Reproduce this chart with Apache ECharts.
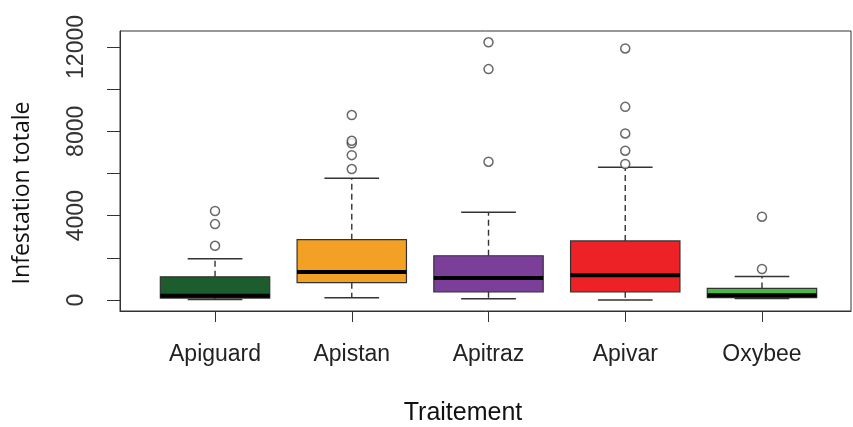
<!DOCTYPE html>
<html><head><meta charset="utf-8">
<script src="https://cdn.jsdelivr.net/npm/echarts@6/dist/echarts.min.js"></script>
<style>html,body{margin:0;padding:0;background:#fff}#c{width:853px;height:427px}</style>
</head><body><div id="c"></div>
<script>
const categories = ['Apiguard', 'Apistan', 'Apitraz', 'Apivar', 'Oxybee'];
const boxColors = ['#1c5d2e', '#f3a125', '#7b3f99', '#ec2227', '#4cb848'];
const lowerWhisker = [20, 110, 60, 0, 70];
const q1 = [90, 820, 390, 390, 110];
const median = [200, 1330, 1040, 1170, 220];
const q3 = [1100, 2860, 2100, 2800, 550];
const upperWhisker = [1960, 5770, 4160, 6300, 1110];
const outliersApiguard = [2570, 3600, 4220];
const outliersApistan = [6210, 6870, 7430, 7550, 8770];
const outliersApitraz = [6560, 10950, 12220];
const outliersApivar = [6450, 7080, 7900, 9160, 11930];
const outliersOxybee = [1470, 3950];
const yTicks = [0, 2000, 4000, 6000, 8000, 10000, 12000];
const yLabels = [0, 4000, 8000, 12000];
const xPositions = [1, 2, 3, 4, 5];

const outlierGroups = [outliersApiguard, outliersApistan, outliersApitraz, outliersApivar, outliersOxybee];
const boxData = categories.map((c, i) => [xPositions[i], lowerWhisker[i], q1[i], median[i], q3[i], upperWhisker[i]]);
const outlierData = [];
outlierGroups.forEach((g, i) => g.forEach(v => outlierData.push([xPositions[i], v])));

const chart = echarts.init(document.getElementById('c'), null, {renderer: 'canvas'});
chart.setOption({
  backgroundColor: '#fff',
  animation: false,
  grid: {left: 120, right: 2, top: 31, bottom: 116, show: true, borderColor: '#333', borderWidth: 1, outerBoundsMode: 'none'},
  xAxis: {
    type: 'value', min: 0.305, max: 5.651,
    splitLine: {show: false},
    axisLine: {show: true, onZero: false, lineStyle: {color: '#333', width: 1}},
    axisTick: {show: true, length: 11, customValues: xPositions, lineStyle: {color: '#333'}},
    axisLabel: {customValues: xPositions, margin: 32, color: '#222', fontFamily: 'Liberation Sans', fontSize: 23,
      formatter: v => categories[Math.round(v) - 1]}
  },
  yAxis: {
    type: 'value', min: -521, max: 12757,
    splitLine: {show: false},
    axisLine: {show: true, onZero: false, lineStyle: {color: '#333', width: 1}},
    axisTick: {show: true, length: 13, customValues: yTicks, lineStyle: {color: '#333'}},
    axisLabel: {customValues: yLabels, rotate: 90, margin: 32, color: '#333', fontFamily: 'Liberation Sans', fontSize: 23,
      formatter: v => String(v)}
  },
  graphic: [
    {type: 'text', x: 22, y: 193, rotation: Math.PI / 2,
      style: {text: 'Infestation totale', font: '23px "Open Sans"', fill: '#111', align: 'center', verticalAlign: 'middle'}},
    {type: 'text', x: 463, y: 413,
      style: {text: 'Traitement', font: '25px "Liberation Sans"', fill: '#111', align: 'center', verticalAlign: 'middle'}}
  ],
  series: [
    {
      type: 'custom',
      data: boxData,
      renderItem: function (params, api) {
        const x = api.value(0);
        const pLo = api.coord([x, api.value(1)]);
        const pA = api.coord([x, api.value(2)]);
        const pM = api.coord([x, api.value(3)]);
        const pB = api.coord([x, api.value(4)]);
        const pHi = api.coord([x, api.value(5)]);
        const half = api.size([0.4, 0])[0];
        const cap = half / 2;
        const cx = pA[0];
        const col = boxColors[params.dataIndex];
        return {type: 'group', children: [
          {type: 'line', shape: {x1: cx, y1: pA[1], x2: cx, y2: pLo[1]}, style: {stroke: '#333', lineWidth: 1.4, lineDash: [6, 4]}},
          {type: 'line', shape: {x1: cx, y1: pB[1], x2: cx, y2: pHi[1]}, style: {stroke: '#333', lineWidth: 1.4, lineDash: [6, 4]}},
          {type: 'line', shape: {x1: cx - cap, y1: pLo[1], x2: cx + cap, y2: pLo[1]}, style: {stroke: '#333', lineWidth: 1.5}},
          {type: 'line', shape: {x1: cx - cap, y1: pHi[1], x2: cx + cap, y2: pHi[1]}, style: {stroke: '#333', lineWidth: 1.5}},
          {type: 'rect', shape: {x: cx - half, y: pB[1], width: 2 * half, height: pA[1] - pB[1]}, style: {fill: col, stroke: '#333', lineWidth: 1.2}},
          {type: 'line', shape: {x1: cx - half, y1: pM[1], x2: cx + half, y2: pM[1]}, style: {stroke: '#000', lineWidth: 4}}
        ]};
      },
      z: 2
    },
    {
      type: 'scatter',
      data: outlierData,
      symbol: 'circle',
      symbolSize: 9,
      itemStyle: {color: '#fff', borderColor: '#444', borderWidth: 1.5},
      z: 3
    }
  ]
});
</script>
</body></html>
